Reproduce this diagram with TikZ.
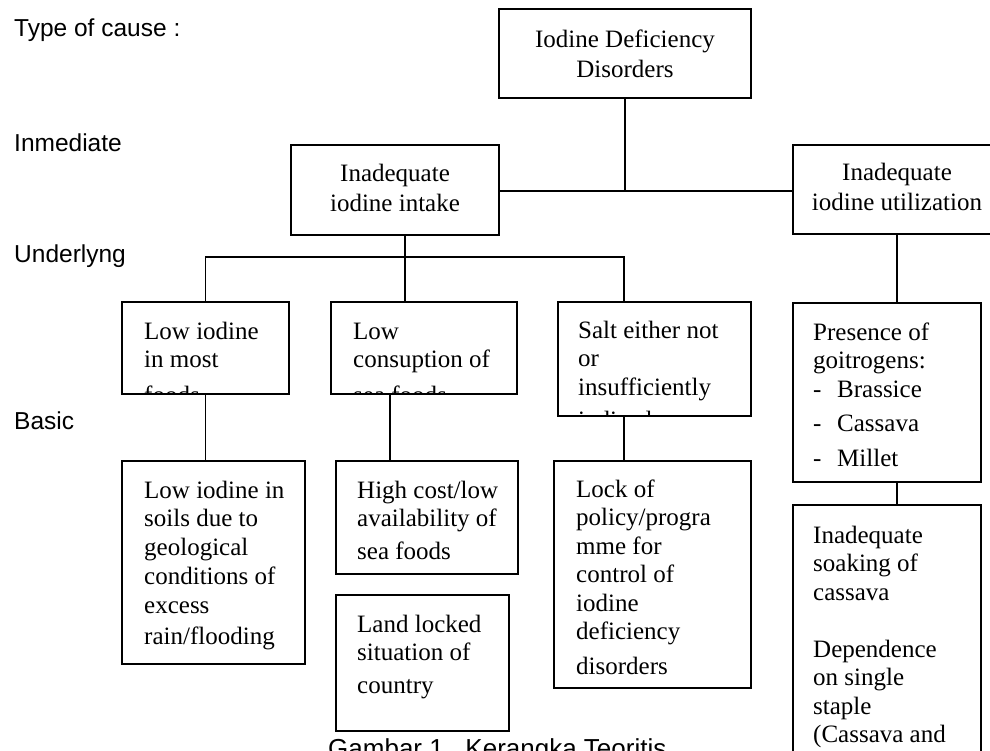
\documentclass[tikz,border=0pt]{standalone}
\usepackage{fontspec}
\setmainfont{Liberation Serif}
\newfontfamily\lblfont{Liberation Sans}
\tikzset{
  box/.style={draw, line width=1.4pt, inner sep=0pt, outer sep=0pt, anchor=north west},
  conn/.style={line width=1.4pt},
  txt/.style={anchor=base west, inner sep=0pt},
  ctxt/.style={anchor=base, inner sep=0pt},
  lbl/.style={anchor=base west, inner sep=0pt, font=\lblfont\fontsize{24.5}{29}\selectfont},
}
\newcommand\mybox[5]{\node[box, minimum width={#4pt-#2pt}, minimum height={#5pt-#3pt}] (#1) at (#2,#3) {};}
\newcommand\ltext[1]{\parbox[t]{220pt}{\fontsize{25}{28.5}\selectfont\raggedright #1}}
\newcommand\ctext[1]{\parbox[t]{260pt}{\fontsize{25}{30}\selectfont\centering #1}}
\begin{document}
\begin{tikzpicture}[x=1pt,y=-1pt]
\useasboundingbox (0,0) rectangle (990,751);
\clip (0,0) rectangle (990,751);

% level labels
\node[lbl] (l1) at (14,37) {Type of cause :};
\node[lbl] (l2) at (14,152) {Inmediate};
\node[lbl] (l3) at (14,263) {Underlyng};
\node[lbl] (l4) at (14,429) {Basic};

% boxes
\mybox{idd}{499}{9}{751}{98}
\mybox{intake}{291}{145}{499}{235}
\mybox{util}{793}{145}{1001}{234}
\mybox{lowfood}{122}{302}{289}{394}
\mybox{lowsea}{331}{302}{517}{394}
\mybox{salt}{558}{302}{751}{416}
\mybox{goit}{793}{303}{981}{482}
\mybox{soil}{122}{461}{305}{664}
\mybox{cost}{336}{461}{518}{574}
\mybox{land}{336}{595}{509}{731}
\mybox{lock}{554}{461}{751}{688}
\mybox{soak}{793}{505}{981}{800}

% centred texts
\node[ctxt] (t-idd) at (625,48) {\ctext{Iodine Deficiency\\Disorders}};
\node[ctxt] (t-intake) at (395,182) {\ctext{Inadequate\\iodine intake}};
\node[ctxt] (t-util) at (897,181) {\ctext{Inadequate\\iodine utilization}};

% clipped texts (overflowing boxes)
\begin{scope}
  \clip (lowfood.north west) rectangle (lowfood.south east);
  \node[txt] (t-lowfood) at (144,339) {\ltext{Low iodine\\in most\\[7pt]foods}};
\end{scope}
\begin{scope}
  \clip (lowsea.north west) rectangle (lowsea.south east);
  \node[txt] (t-lowsea) at (353,339) {\ltext{Low\\consuption of\\[7pt]sea foods}};
\end{scope}
\begin{scope}
  \clip (salt.north west) rectangle (salt.south east);
  \node[txt] (t-salt) at (578,338) {\ltext{Salt either not\\or\\insufficiently\\[5pt]iodized}};
\end{scope}

% other texts
\node[txt] (t-soil) at (144,498) {\ltext{Low iodine in\\soils due to\\geological\\[1pt]conditions of\\excess\\[3pt]rain/flooding}};
\node[txt] (t-cost) at (357,498) {\ltext{High cost/low\\availability of\\[4pt]sea foods}};
\node[txt] (t-land) at (357,632) {\ltext{Land locked\\situation of\\[4pt]country}};
\node[txt] (t-lock) at (576,497) {\ltext{Lock of\\policy/progra\\mme for\\control of\\iodine\\deficiency\\[6pt]disorders}};
\node[txt] (t-goit) at (813,340) {\ltext{Presence of\\goitrogens:\\\makebox[24pt][l]{-}Brassice\\[6pt]\makebox[24pt][l]{-}Cassava\\[6pt]\makebox[24pt][l]{-}Millet}};
\node[txt] (t-soak) at (813,543) {\ltext{Inadequate\\soaking of\\cassava\\[28.5pt]Dependence\\on single\\staple\\(Cassava and}};

% caption
\node[lbl, font=\lblfont\fontsize{26}{30}\selectfont] (cap) at (328,757) {Gambar 1.\ \ Kerangka Teoritis};

% connector helper coordinates
\coordinate (busA) at (0,191);
\coordinate (busB) at (0,257);
\coordinate (xM) at (405,0);
\coordinate (xL) at (390,0);
\coordinate (xS) at (624,0);
\coordinate (xR) at (897,0);

% connectors
\draw[conn] (idd.south) -- (idd.south |- busA);
\draw[conn] (intake.east |- busA) -- (util.west |- busA);
\draw[conn] (xM |- intake.south) -- (xM |- lowsea.north);
\draw[conn] (lowfood.north) -- (lowfood.north |- busB) -- (xS |- busB) -- (xS |- salt.north);
\draw[conn] (xR |- util.south) -- (xR |- goit.north);
\draw[conn] (xR |- goit.south) -- (xR |- soak.north);
\draw[conn] (lowfood.south) -- (soil.north -| lowfood.south);
\draw[conn] (xL |- lowsea.south) -- (xL |- cost.north);
\draw[conn] (xS |- salt.south) -- (xS |- lock.north);
\end{tikzpicture}
\end{document}
